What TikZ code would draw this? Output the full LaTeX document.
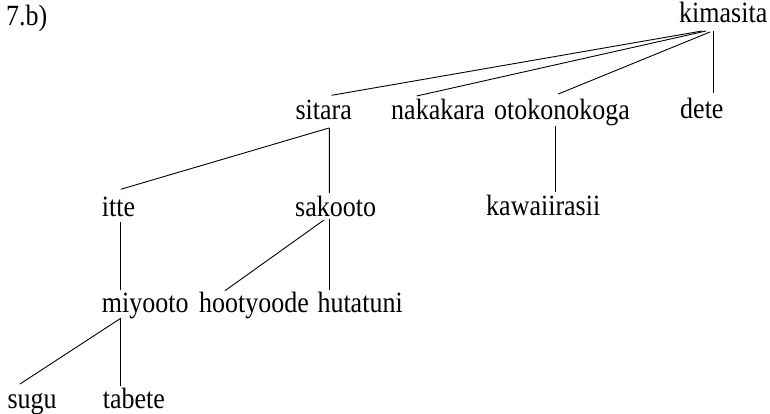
\documentclass[tikz,border=0pt]{standalone}
\usepackage{fontspec}
\setmainfont{Liberation Serif}
\usetikzlibrary{calc}
\begin{document}
\begin{tikzpicture}[x=1pt,y=-1pt,
  lbl/.style={anchor=base west,inner sep=0pt,font=\fontsize{26}{30}\selectfont,yscale=1.13,transform shape},
  edge/.style={draw=black,line width=0.9pt}]
\useasboundingbox (0,0) rectangle (770,414);
\node[lbl] (title) at (6,26) {7.b)};
\node[lbl] (kim) at (679,23) {kimasita};
\node[lbl] (sit) at (295.4,120) {sitara};
\node[lbl] (nak) at (391,120) {nakakara};
\node[lbl] (oto) at (494,120) {otokonokoga};
\node[lbl] (dete) at (680,119) {dete};
\node[lbl] (kaw) at (486,215) {kawaiirasii};
\node[lbl] (itte) at (101.7,216) {itte};
\node[lbl] (sak) at (295,216) {sakooto};
\node[lbl] (miy) at (101.7,312) {miyooto};
\node[lbl] (hoot) at (199,312) {hootyoode};
\node[lbl] (hut) at (317.3,312) {hutatuni};
\node[lbl] (sugu) at (7.3,408) {sugu};
\node[lbl] (tab) at (102.7,408) {tabete};
% edges
\draw[edge] ($(kim.base west)+(23,8)$) -- ($(sit.base west)+(36.3,-24.7)$);
\draw[edge] ($(kim.base west)+(27,8)$) -- ($(nak.base west)+(25.7,-24)$);
\draw[edge] ($(kim.base west)+(31,9)$) -- ($(oto.base west)+(64.3,-26)$);
\draw[edge] ($(kim.base west)+(34,8)$) -- ($(dete.base west)+(33,-26)$);
\draw[edge] ($(sit.base west)+(33.6,8)$) -- ($(itte.base west)+(19,-26.7)$);
\draw[edge] ($(sit.base west)+(34,8)$) -- ($(sak.base west)+(34.3,-23)$);
\draw[edge] ($(oto.base west)+(61,6)$) -- ($(kaw.base west)+(69,-23)$);
\draw[edge] ($(itte.base west)+(19,6)$) -- ($(miy.base west)+(19,-22)$);
\draw[edge] ($(sak.base west)+(29,4)$) -- ($(hoot.base west)+(26,-21.3)$);
\draw[edge] ($(sak.base west)+(34,3)$) -- ($(hut.base west)+(11.7,-22)$);
\draw[edge] ($(miy.base west)+(19,6.3)$) -- ($(sugu.base west)+(12.7,-24)$);
\draw[edge] ($(miy.base west)+(19,6)$) -- ($(tab.base west)+(18,-22)$);
\end{tikzpicture}
\end{document}
